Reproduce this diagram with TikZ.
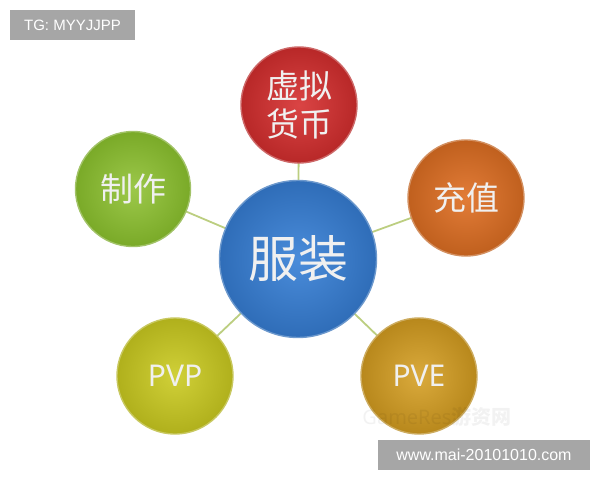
\documentclass[tikz,border=0pt]{standalone}
\usepackage{fontspec}
\setmainfont{Noto Sans}
\newfontfamily\cjk{Noto Sans CJK SC}
\newfontfamily\lab{Liberation Sans}
\usetikzlibrary{shadings}
\definecolor{linkc}{HTML}{BCCE80}
\definecolor{tagc}{HTML}{A6A6A6}
\tikzset{
  x=1pt,y=-1pt,
  link/.style={draw=linkc,line width=1.8pt},
  ball/.style n args={3}{circle,minimum size=#1,inner sep=0pt,
    draw=#3!70!white,line width=1.4pt,
    inner color=#2,outer color=#3,
    text=white!94!black},
  tagbox/.style={fill=tagc,text=white,inner sep=0pt,font=\lab\fontsize{15}{15}\selectfont},
}
\begin{document}
\begin{tikzpicture}
\useasboundingbox (0,0) rectangle (600,480);
\definecolor{bluein}{HTML}{4A8CDA}\definecolor{blueout}{HTML}{2F6DB8}
\definecolor{redin}{HTML}{DA4444}\definecolor{redout}{HTML}{B82828}
\definecolor{orin}{HTML}{E27C38}\definecolor{orout}{HTML}{C0601E}
\definecolor{grin}{HTML}{9CC84A}\definecolor{grout}{HTML}{7AAA28}
\definecolor{yein}{HTML}{D0D038}\definecolor{yeout}{HTML}{B0B01C}
\definecolor{goin}{HTML}{DAAA3C}\definecolor{goout}{HTML}{B8881C}
\coordinate (cc) at (298,259);
\coordinate (ct) at (299,105);
\coordinate (cr) at (466,198);
\coordinate (cl) at (133,189);
\coordinate (cbl) at (175,376);
\coordinate (cbr) at (419,376);
\draw[link] (cc) -- (ct);
\draw[link] (cc) -- (cr);
\draw[link] (cc) -- (cl);
\draw[link] (cc) -- (cbl);
\draw[link] (cc) -- (cbr);
\node[ball={116pt}{redin}{redout},font=\cjk\fontsize{33}{38}\selectfont,align=center] (top) at (ct) {虚拟\\货币};
\node[ball={116pt}{orin}{orout},font=\cjk\fontsize{33}{38}\selectfont] (right) at (cr) {充值};
\node[ball={115pt}{grin}{grout},font=\cjk\fontsize{33}{38}\selectfont] (left) at (cl) {制作};
\node[ball={116pt}{yein}{yeout},font=\fontsize{30}{34}\selectfont] (pvp) at (cbl) {PVP};
\node[ball={116pt}{goin}{goout},font=\fontsize{30}{34}\selectfont] (pve) at (cbr) {PVE};
\node[ball={157pt}{bluein}{blueout},font=\cjk\fontsize{50}{56}\selectfont] (center) at (cc) {服装};
\node[tagbox,minimum width=125pt,minimum height=30pt] (tg) at (72.5,25) {TG: MYYJJPP};
\node[text=black,opacity=0.05,font=\bfseries\fontsize{20}{20}\selectfont,inner sep=0pt] (gr) at (437,417) {GameRes{\cjk 游资网}};
\node[tagbox,minimum width=212pt,minimum height=30pt,font=\lab\fontsize{16}{16}\selectfont] (www) at (484,455) {www.mai-20101010.com};
\end{tikzpicture}
\end{document}
